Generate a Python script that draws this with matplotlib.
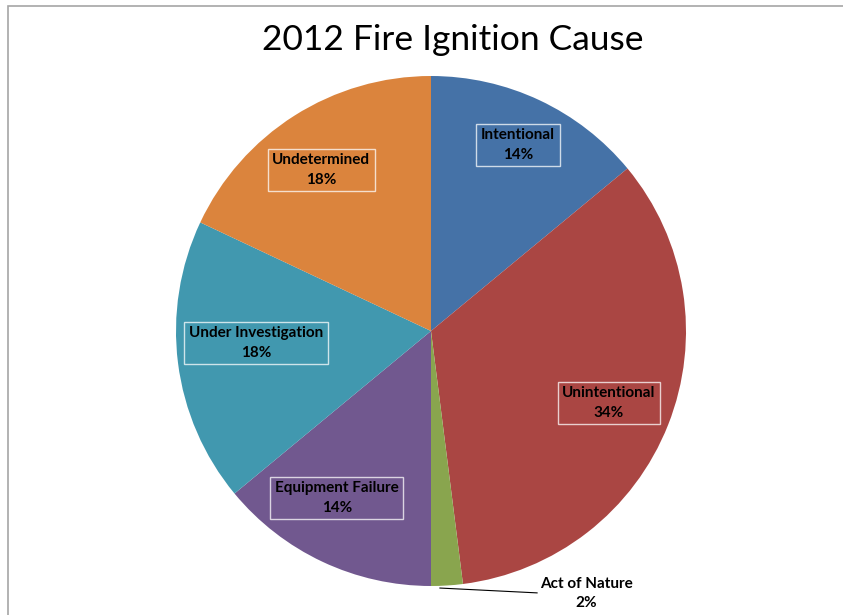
import matplotlib
matplotlib.use("Agg")
from matplotlib import pyplot as plt
from matplotlib.patches import Rectangle
import numpy as np

# data
causes = ["Intentional", "Unintentional", "Act of Nature", "Equipment Failure",
          "Under Investigation", "Undetermined"]
shares = [14, 34, 2, 14, 18, 18]
colors = ["#4572A7", "#AA4643", "#89A54E", "#71588F", "#4198AF", "#DB843D"]

# label centres (pie radius units) as laid out in the original
label_pos = [(0.341, 0.729), (0.698, -0.282), (0.61, -1.03), (-0.369, -0.655),
             (-0.686, -0.047), (-0.431, 0.631)]

plt.rcParams['font.family'] = ['Lato', 'DejaVu Sans']

W, H = 843, 615
fig = plt.figure(figsize=(W / 100, H / 100), dpi=100)
fig.patch.set_facecolor("white")

# chart frame (only top/left visible in the crop)
fig.add_artist(Rectangle((8 / W, -0.1), 1.2, (H - 6) / H + 0.1, transform=fig.transFigure,
                         fill=False, edgecolor="#a6a6a6", linewidth=1.2))

cx, cy, r = 431, 331, 255
ax = fig.add_axes([(cx - r) / W, (H - cy - r) / H, 2 * r / W, 2 * r / H])
wedges, _ = ax.pie(shares, colors=colors, startangle=90, counterclock=False,
                   wedgeprops=dict(edgecolor="none"))
ax.set_xlim(-1, 1)
ax.set_ylim(-1, 1)
ax.set_aspect("equal")
ax.axis("off")

for i, (name, val) in enumerate(zip(causes, shares)):
    x, y = label_pos[i]
    txt = "%s\n%d%%" % (name, val)
    if name == "Act of Nature":
        ax.text(x, y, txt, ha="center", va="center", fontsize=11, fontweight="bold",
                linespacing=1.5, clip_on=False)
        ax.plot([0.035, 0.416], [-1.008, -1.027], color="black", lw=0.8, clip_on=False)
    else:
        ax.text(x, y, txt, ha="center", va="center", fontsize=11, fontweight="bold",
                linespacing=1.5,
                bbox=dict(boxstyle="square,pad=0.3", facecolor="none",
                          edgecolor=(1, 1, 1, 0.75), linewidth=1))

fig.text(453 / W, 1 - 40 / H, "2012 Fire Ignition Cause", ha="center", va="center",
         fontsize=25.5)

plt.savefig("out.png", dpi=100)
